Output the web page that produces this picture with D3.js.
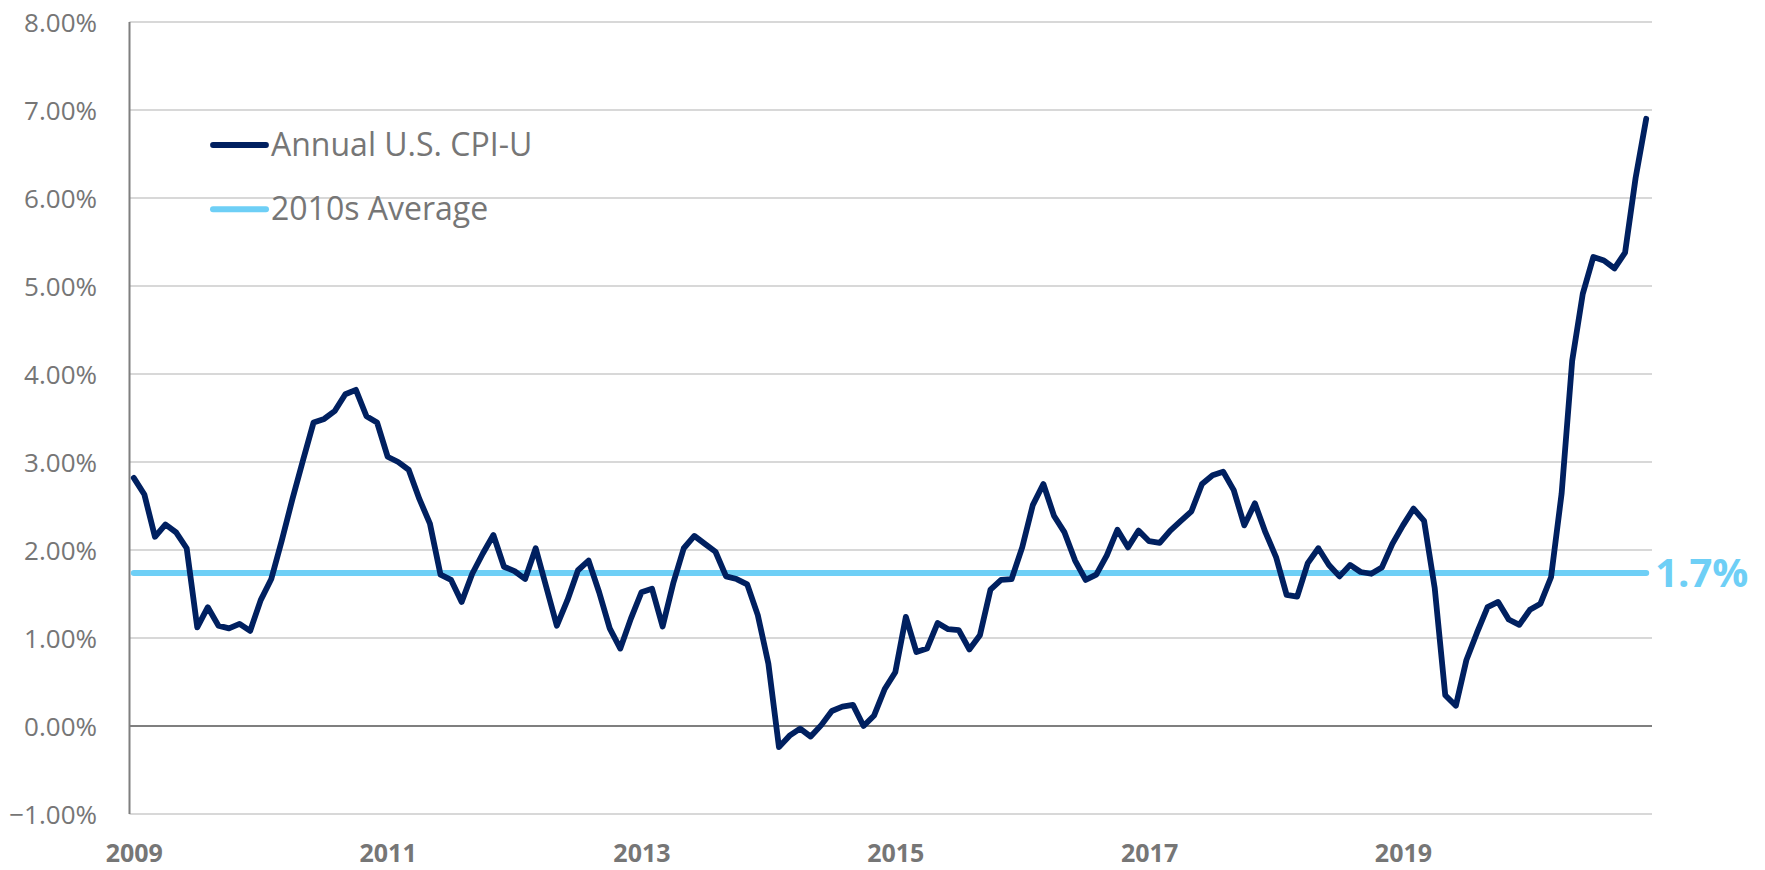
<!DOCTYPE html>
<html>
<head>
<meta charset="utf-8">
<script src="https://cdn.jsdelivr.net/npm/d3@7"></script>
<style>
  html, body { margin: 0; padding: 0; background: #ffffff; }
  svg { display: block; }
</style>
</head>
<body>
<svg id="chart" width="1765" height="870"></svg>
<script>
// ---- Data ----
const seriesName = "Annual U.S. CPI-U";
const averageName = "2010s Average";
const averageValue = 1.74;
const averageLabel = "1.7%";

const cpiValues = [
  2.82, 2.63, 2.15, 2.29, 2.20, 2.02, 1.12, 1.35, 1.14, 1.11, 1.16, 1.08,
  1.43, 1.67, 2.11, 2.58, 3.02, 3.45, 3.49, 3.58, 3.77, 3.82, 3.52, 3.45,
  3.06, 3.00, 2.91, 2.58, 2.30, 1.72, 1.66, 1.41, 1.73, 1.96, 2.17, 1.81,
  1.76, 1.67, 2.02, 1.58, 1.14, 1.43, 1.77, 1.88, 1.52, 1.11, 0.88, 1.22,
  1.52, 1.56, 1.13, 1.62, 2.02, 2.16, 2.07, 1.98, 1.70, 1.67, 1.61, 1.26,
  0.71, -0.24, -0.11, -0.03, -0.12, 0.01, 0.17, 0.22, 0.24, 0.00, 0.12, 0.42,
  0.61, 1.24, 0.84, 0.88, 1.17, 1.10, 1.09, 0.87, 1.03, 1.55, 1.66, 1.67,
  2.03, 2.51, 2.75, 2.39, 2.20, 1.88, 1.66, 1.72, 1.94, 2.23, 2.03, 2.22,
  2.10, 2.08, 2.22, 2.33, 2.44, 2.75, 2.85, 2.89, 2.68, 2.28, 2.53, 2.20,
  1.92, 1.49, 1.47, 1.85, 2.02, 1.83, 1.70, 1.83, 1.75, 1.73, 1.80, 2.07,
  2.28, 2.47, 2.33, 1.57, 0.35, 0.23, 0.75, 1.06, 1.35, 1.41, 1.21, 1.15,
  1.32, 1.39, 1.69, 2.64, 4.15, 4.91, 5.33, 5.29, 5.20, 5.38, 6.23, 6.90
];

// x-axis labels: one every 24 monthly points
const xTickLabels = ["2009", "2011", "2013", "2015", "2017", "2019"];
const xTickStep = 24;

const yTicks = [-1, 0, 1, 2, 3, 4, 5, 6, 7, 8];

// ---- Layout ----
const svg = d3.select("#chart");
const plotLeft = 128.5, plotRight = 1651.5;
const gridLeft = 129.5, gridRight = 1652;

const x = d3.scalePoint()
  .domain(d3.range(cpiValues.length))
  .range([plotLeft, plotRight])
  .padding(0.5);

const y = d3.scaleLinear().domain([-1, 8]).range([814, 22]);

const navy = "#002060";
const cyan = "#6ecff6";
const gray = "#767676";
const font = "'Open Sans', 'Liberation Sans', sans-serif";

// gridlines
svg.append("g").selectAll("line")
  .data(yTicks.filter(d => d !== 0))
  .join("line")
  .attr("x1", gridLeft).attr("x2", gridRight)
  .attr("y1", d => y(d)).attr("y2", d => y(d))
  .attr("stroke", "#cbcbcb")
  .attr("stroke-width", 1.6);

// zero line
svg.append("line")
  .attr("x1", gridLeft).attr("x2", gridRight)
  .attr("y1", y(0)).attr("y2", y(0))
  .attr("stroke", "#7f7f7f")
  .attr("stroke-width", 2.2);

// y axis (labels via d3 axis)
const yAxis = d3.axisLeft(y)
  .tickValues(yTicks)
  .tickSize(0)
  .tickPadding(0)
  .tickFormat(d => d3.format(".2f")(d) + "%");

const yAxisG = svg.append("g")
  .attr("transform", `translate(${gridLeft},0)`)
  .call(yAxis);
yAxisG.select(".domain")
  .attr("d", `M0,${y(8)}V${y(-1)}`)
  .attr("stroke", "#7f7f7f")
  .attr("stroke-width", 2);
yAxisG.selectAll("text")
  .attr("x", 97 - gridLeft)
  .attr("dy", "0.35em")
  .attr("font-family", font)
  .attr("font-size", 26)
  .attr("fill", gray);

// x axis labels
const xAxis = d3.axisBottom(x)
  .tickValues(xTickLabels.map((_, i) => i * xTickStep))
  .tickSize(0)
  .tickPadding(0)
  .tickFormat((d, i) => xTickLabels[i]);

const xAxisG = svg.append("g")
  .attr("transform", `translate(0,${y(-1)})`)
  .call(xAxis);
xAxisG.select(".domain").remove();
xAxisG.selectAll("text")
  .attr("y", 0)
  .attr("dy", 48)
  .attr("font-family", font)
  .attr("font-size", 25)
  .attr("font-weight", "bold")
  .attr("fill", gray);

// average line
const avgData = cpiValues.map(() => averageValue);
const line = d3.line()
  .x((d, i) => x(i))
  .y(d => y(d));

svg.append("path")
  .datum(avgData)
  .attr("d", line)
  .attr("fill", "none")
  .attr("stroke", cyan)
  .attr("stroke-width", 6)
  .attr("stroke-linecap", "round");

// CPI line
svg.append("path")
  .datum(cpiValues)
  .attr("d", line)
  .attr("fill", "none")
  .attr("stroke", navy)
  .attr("stroke-width", 5.8)
  .attr("stroke-linejoin", "round")
  .attr("stroke-linecap", "round");

// average label
svg.append("text")
  .attr("x", x(cpiValues.length - 1) + 9)
  .attr("y", y(averageValue))
  .attr("dy", "0.36em")
  .attr("font-family", font)
  .attr("font-size", 40)
  .attr("font-weight", "bold")
  .attr("fill", cyan)
  .text(averageLabel);

// legend
const legend = [
  { name: seriesName, color: navy, width: 5.8, ly: 145 },
  { name: averageName, color: cyan, width: 6, ly: 209.3 }
];
const lg = svg.append("g").selectAll("g").data(legend).join("g");
lg.append("line")
  .attr("x1", 213).attr("x2", 266)
  .attr("y1", d => d.ly).attr("y2", d => d.ly)
  .attr("stroke", d => d.color)
  .attr("stroke-width", d => d.width)
  .attr("stroke-linecap", "round");
lg.append("text")
  .attr("x", 271)
  .attr("y", d => d.ly + 10.5)
  .attr("font-family", font)
  .attr("font-size", 32)
  .attr("fill", gray)
  .text(d => d.name);
</script>
</body>
</html>
